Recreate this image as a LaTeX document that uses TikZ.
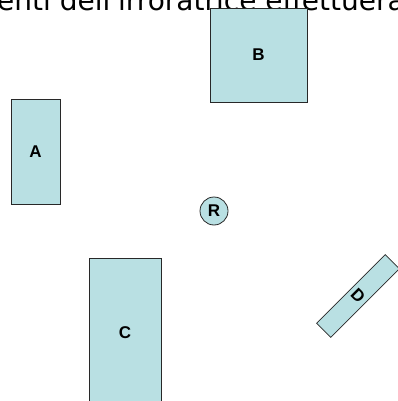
\documentclass[tikz,border=0pt]{standalone}
\usepackage{fontspec}
\setmainfont{Liberation Sans}
\newfontfamily\titlefont{DejaVu Sans}
\usepackage{xcolor}
\usepackage{tikz}
\usetikzlibrary{positioning}
\definecolor{blockFill}{RGB}{185,224,227}
\definecolor{blockLine}{RGB}{40,40,40}

\begin{document}
\begin{tikzpicture}[
    x=1pt, y=-1pt,
    every node/.style={font=\fontsize{17}{20}\selectfont\bfseries},
    block/.style={rectangle, draw=blockLine, fill=blockFill, line width=0.8pt,
        inner sep=0pt, anchor=center},
    robot/.style={circle, draw=blockLine, fill=blockFill, line width=0.8pt,
        minimum size=28pt, inner sep=0pt},
    ]
    \useasboundingbox (0,0) rectangle (398,401);
    \clip (0,0) rectangle (398,401);
    % Title cut at the top
    \node[anchor=base west, inner sep=0pt, font=\titlefont\fontsize{28}{32}\selectfont]
      (title) at (-3,11) {enti dell'irroratrice effettuera};
    % Blocks
    \node[block, minimum width=97pt, minimum height=94pt] (b) at (258.5,55) {B};
    \node[block, minimum width=49pt, minimum height=105pt] (a) at (35.5,151.5) {A};
    \node[block, minimum width=72pt, minimum height=150pt] (c) at (125,333) {C};
    \node[block, minimum width=20pt, minimum height=97pt, rotate=-45] (d) at (358,296) {D};
    % Reference point
    \node[robot] (r) at (214,211) {R};
  \end{tikzpicture}
\end{document}
